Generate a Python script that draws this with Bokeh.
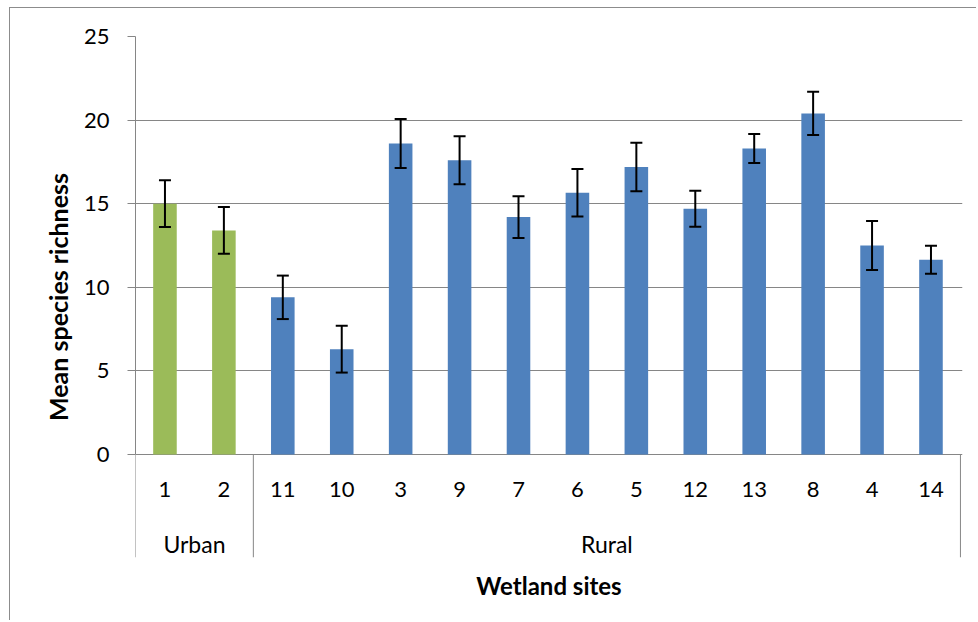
from bokeh.plotting import figure
from bokeh.models import (ColumnDataSource, Range1d, LinearAxis,
                          FixedTicker, Whisker, TeeHead)
from bokeh.core.properties import value
from bokeh.embed import file_html
from bokeh.resources import INLINE

# ---- data ----
sites = ["1", "2", "11", "10", "3", "9", "7", "6", "5", "12", "13", "8", "4", "14"]
groups = ["Urban", "Urban", "Rural", "Rural", "Rural", "Rural", "Rural",
          "Rural", "Rural", "Rural", "Rural", "Rural", "Rural", "Rural"]
means = [15.0, 13.4, 9.4, 6.3, 18.6, 17.6, 14.2, 15.65, 17.2, 14.7, 18.3, 20.4, 12.5, 11.65]
errors = [1.4, 1.4, 1.3, 1.4, 1.47, 1.43, 1.25, 1.42, 1.45, 1.08, 0.87, 1.29, 1.47, 0.84]
group_colors = {"Urban": "#9BBB59", "Rural": "#4F81BD"}
y_ticks = [0, 5, 10, 15, 20, 25]

FONT = "Lato"
GRAY = "#868686"
Y_MIN = -6.16        # frame extends below zero to hold the category-axis band
SITE_LABEL_Y = -2.09  # vertical place of the site labels inside that band

# category slot positions: one unit per site, label at slot centre
centers = [i + 0.5 for i in range(len(sites))]

src = ColumnDataSource(dict(
    x=centers,
    site=sites,
    mean=means,
    upper=[m + e for m, e in zip(means, errors)],
    lower=[m - e for m, e in zip(means, errors)],
    color=[group_colors[g] for g in groups],
    label_y=[SITE_LABEL_Y] * len(sites),
))

p = figure(width=967, height=613, output_backend="svg", toolbar_location=None,
           x_range=Range1d(0, len(sites) + 0.035),
           y_range=Range1d(Y_MIN, 25),
           min_border_left=125, min_border_right=15, min_border_top=28,
           min_border_bottom=64,
           x_axis_location=None, y_axis_location=None,
           styles={"margin-left": "9px", "margin-top": "7px",
                   "border-left": "1px solid #8c8c8c",
                   "border-top": "1px solid #8c8c8c"})
p.outline_line_color = None
p.background_fill_color = "white"
p.border_fill_color = "white"

# bars + error bars
p.vbar(x="x", top="mean", width=0.4, source=src, fill_color="color",
       line_color=None)
whisk = Whisker(source=src, base="x", upper="upper", lower="lower",
                line_color="black", line_width=2, level="overlay",
                upper_head=TeeHead(size=12, line_color="black", line_width=2),
                lower_head=TeeHead(size=12, line_color="black", line_width=2))
p.add_layout(whisk)

# y axis (only over 0..25)
yax = LinearAxis(ticker=FixedTicker(ticks=y_ticks), bounds=(y_ticks[0], y_ticks[-1]))
yax.axis_line_color = GRAY
yax.major_tick_line_color = GRAY
yax.major_tick_out = 8
yax.major_tick_in = 0
yax.minor_tick_line_color = None
yax.major_label_standoff = 18
yax.major_label_text_font = FONT
yax.major_label_text_font_size = "22px"
yax.major_label_text_color = "black"
yax.axis_label = "Mean species richness"
yax.axis_label_text_font = FONT
yax.axis_label_text_font_size = "25px"
yax.axis_label_text_font_style = "bold"
yax.axis_label_text_color = "black"
yax.axis_label_standoff = 8
p.add_layout(yax, "left")

# horizontal gridlines (the one at 0 is the category axis line)
p.ygrid.ticker = FixedTicker(ticks=y_ticks)
p.ygrid.grid_line_color = GRAY
p.ygrid.grid_line_width = 1
p.xgrid.grid_line_color = None

# group boundaries (separators) and group centres
bounds = [0]
for i in range(1, len(groups)):
    if groups[i] != groups[i - 1]:
        bounds.append(i)
bounds.append(len(groups))
group_names = []
group_centers = []
for a, b in zip(bounds[:-1], bounds[1:]):
    group_names.append(groups[a])
    group_centers.append((a + b) / 2)

# group separators down through the label band
p.segment(x0=bounds, y0=[0] * len(bounds), x1=bounds, y1=[Y_MIN] * len(bounds),
          line_color=GRAY, line_width=1)

# site labels
p.text(x="x", y="label_y", text="site", source=src,
       text_font=value(FONT), text_font_size="22px", text_color="black",
       text_align="center", text_baseline="middle")

# group labels + axis title
ax2 = LinearAxis(ticker=FixedTicker(ticks=group_centers, minor_ticks=[]))
ax2.major_label_overrides = {c: g for c, g in zip(group_centers, group_names)}
ax2.axis_line_color = None
ax2.major_tick_line_color = None
ax2.minor_tick_line_color = None
ax2.major_tick_out = 0
ax2.major_tick_in = 0
ax2.major_label_standoff = -28
ax2.major_label_text_font = FONT
ax2.major_label_text_font_size = "23px"
ax2.major_label_text_color = "black"
ax2.axis_label = "Wetland sites"
ax2.axis_label_text_font = FONT
ax2.axis_label_text_font_size = "24px"
ax2.axis_label_text_font_style = "bold"
ax2.axis_label_text_color = "black"
ax2.axis_label_standoff = 10
p.add_layout(ax2, "below")

open("out.html", "w").write(file_html(p, INLINE))
